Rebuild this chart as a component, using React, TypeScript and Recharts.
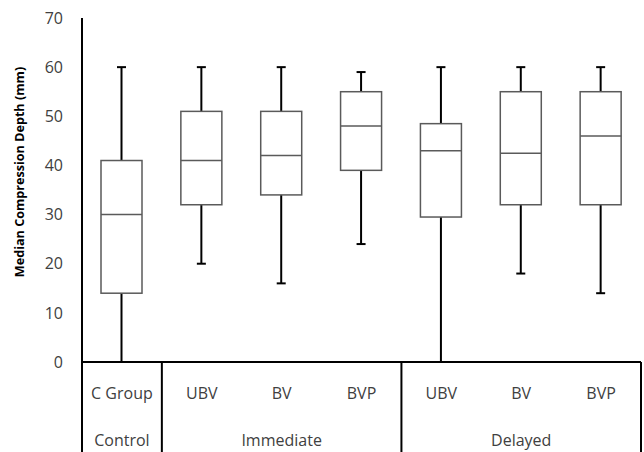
import { Bar, ComposedChart, XAxis, YAxis } from "recharts";

const CATEGORIES = ["C Group", "UBV", "BV", "BVP", "UBV", "BV", "BVP"];
const GROUPS = ["Control", "Immediate", "Immediate", "Immediate", "Delayed", "Delayed", "Delayed"];
const MIN = [0, 20, 16, 24, 0, 18, 14];
const Q1 = [14, 32, 34, 39, 29.5, 32, 32];
const MEDIAN = [30, 41, 42, 48, 43, 42.5, 46];
const Q3 = [41, 51, 51, 55, 48.5, 55, 55];
const MAX = [60, 60, 60, 59, 60, 60, 60];
const Y_TICKS = [0, 10, 20, 30, 40, 50, 60, 70];

const FONT = "'Open Sans', sans-serif";

const data = CATEGORIES.map((name, i) => ({
  id: `c${i}`,
  name,
  group: GROUPS[i],
  min: MIN[i],
  q1: Q1[i],
  median: MEDIAN[i],
  q3: Q3[i],
  max: MAX[i],
  range: [MIN[i], MAX[i]],
}));

const BoxShape = (props: any) => {
  const { x, y, width, height, payload } = props;
  const top = Math.min(y, y + height);
  const span = Math.abs(height);
  const k = span / (payload.max - payload.min || 1);
  const py = (v: number) => top + (payload.max - v) * k;
  const cx = x + width / 2;
  const cap = 4.5;
  return (
    <g>
      <line x1={cx} x2={cx} y1={py(payload.max)} y2={py(payload.min)} stroke="#000" strokeWidth={2} />
      <line x1={cx - cap} x2={cx + cap} y1={py(payload.max)} y2={py(payload.max)} stroke="#000" strokeWidth={2} />
      <line x1={cx - cap} x2={cx + cap} y1={py(payload.min)} y2={py(payload.min)} stroke="#000" strokeWidth={2} />
      <rect
        x={x}
        y={py(payload.q3)}
        width={width}
        height={py(payload.q1) - py(payload.q3)}
        fill="#fff"
        stroke="#5a5a5a"
        strokeWidth={1.5}
      />
      <line x1={x} x2={x + width} y1={py(payload.median)} y2={py(payload.median)} stroke="#5a5a5a" strokeWidth={1.5} />
    </g>
  );
};

const CatTick = (props: any) => {
  const { x, y, payload, index } = props;
  const i = index ?? payload.index;
  const band = props.width ? props.width / CATEGORIES.length : 79.9;
  const g = GROUPS[i];
  const first = GROUPS.indexOf(g);
  const last = GROUPS.lastIndexOf(g);
  const mid = (first + last) / 2;
  const groupX = x + (mid - i) * band;
  return (
    <g>
      <text x={x} y={y + 37} textAnchor="middle" fontFamily={FONT} fontSize={16} fill="#404040">
        {CATEGORIES[i]}
      </text>
      {i === first && (
        <line x1={x - band / 2} x2={x - band / 2} y1={y} y2={y + 90} stroke="#000" strokeWidth={2} />
      )}
      {i === CATEGORIES.length - 1 && (
        <line x1={x + band / 2} x2={x + band / 2} y1={y} y2={y + 90} stroke="#000" strokeWidth={2} />
      )}
      {Math.round(mid) === i && (
        <text x={groupX} y={y + 84} textAnchor="middle" fontFamily={FONT} fontSize={16} fill="#404040">
          {g}
        </text>
      )}
    </g>
  );
};

const YTitle = (p: any) => {
  const vb = p.viewBox || { x: 0, y: 18, width: 82, height: 344 };
  const cx = vb.x + 19;
  const cy = vb.y + vb.height / 2 - 18;
  return (
    <text
      x={cx}
      y={cy}
      transform={`rotate(-90, ${cx}, ${cy})`}
      textAnchor="middle"
      dominantBaseline="central"
      fontFamily={FONT}
      fontSize={12.6}
      fontWeight="bold"
      fill="#000"
    >
      Median Compression Depth (mm)
    </text>
  );
};

export default function App() {
  return (
    <div style={{ position: "absolute", left: 0, top: 0, background: "#fff" }}>
      <ComposedChart
        width={644}
        height={452}
        data={data}
        margin={{ top: 18, right: 3, bottom: 0, left: 0 }}
        barCategoryGap={0}
      >
        <XAxis
          dataKey="id"
          type="category"
          interval={0}
          height={90}
          tickSize={0}
          tickMargin={0}
          tickLine={false}
          axisLine={{ stroke: "#000", strokeWidth: 2 }}
          tick={<CatTick />}
        />
        <YAxis
          domain={[0, 70]}
          ticks={Y_TICKS}
          width={82}
          tickLine={false}
          tickSize={0}
          tickMargin={19}
          axisLine={{ stroke: "#000", strokeWidth: 2 }}
          tick={{ fontFamily: FONT, fontSize: 16, fill: "#404040" }}
          label={{ content: <YTitle /> }}
        />
        <Bar dataKey="range" barSize={41} shape={<BoxShape />} isAnimationActive={false} />
      </ComposedChart>
    </div>
  );
}
